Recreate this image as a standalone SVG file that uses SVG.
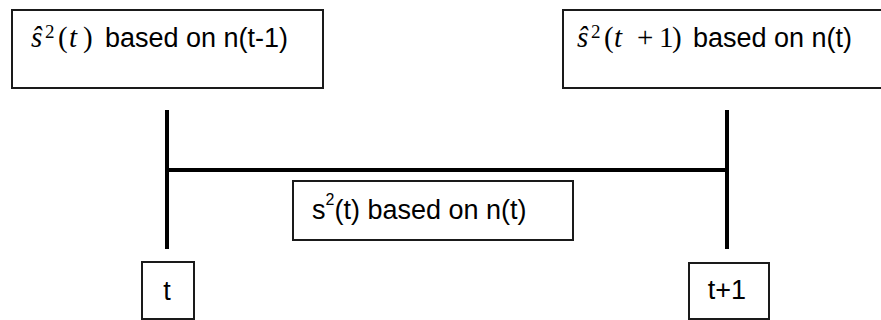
<svg xmlns="http://www.w3.org/2000/svg" width="881" height="320" viewBox="0 0 881 320">
<style>
.box{fill:#fff;stroke:#1a1a1a;stroke-width:2}
.ln{stroke:#000;stroke-width:4;fill:none}
.txt{font-family:"Liberation Sans",Arial,sans-serif;font-size:27px;fill:#000}
.m{font-family:"Liberation Serif","Times New Roman",serif;font-size:29px;fill:#000}
.mi{font-style:italic}
.sup{font-size:19px}
</style>
<rect width="881" height="320" fill="#fff"/>
<g id="connectors">
<line class="ln" x1="167" y1="110" x2="167" y2="249"/>
<line class="ln" x1="727" y1="110" x2="727" y2="249"/>
<line class="ln" x1="167" y1="170" x2="727" y2="170"/>
</g>
<g id="node-shat-t">
<rect class="box" x="12" y="10" width="311" height="78"/>
<text class="m" y="47"><tspan class="mi" x="31">ŝ</tspan><tspan class="sup" x="45" y="38">2</tspan><tspan x="58" y="47">(</tspan><tspan class="mi" x="69">t</tspan><tspan x="83">)</tspan></text>
<text class="txt" x="105" y="47">based on n(t-1)</text>
</g>
<g id="node-shat-t1">
<rect class="box" x="563" y="10" width="330" height="78"/>
<text class="m" y="47"><tspan class="mi" x="577">ŝ</tspan><tspan class="sup" x="591" y="38">2</tspan><tspan x="604" y="47">(</tspan><tspan class="mi" x="614">t</tspan><tspan x="637">+</tspan><tspan x="659">1</tspan><tspan x="672">)</tspan></text>
<text class="txt" x="693" y="47">based on n(t)</text>
</g>
<g id="node-s2t">
<rect class="box" x="293" y="181" width="280" height="59"/>
<text class="txt" x="312" y="219">s<tspan font-size="16" dy="-14">2</tspan><tspan dy="14">(t) based on n(t)</tspan></text>
</g>
<g id="node-t">
<rect class="box" x="142" y="262" width="52" height="57"/>
<text class="txt" x="167" y="300" text-anchor="middle">t</text>
</g>
<g id="node-t1">
<rect class="box" x="689" y="263" width="80" height="56"/>
<text class="txt" x="727" y="299" text-anchor="middle">t+1</text>
</g>
</svg>
